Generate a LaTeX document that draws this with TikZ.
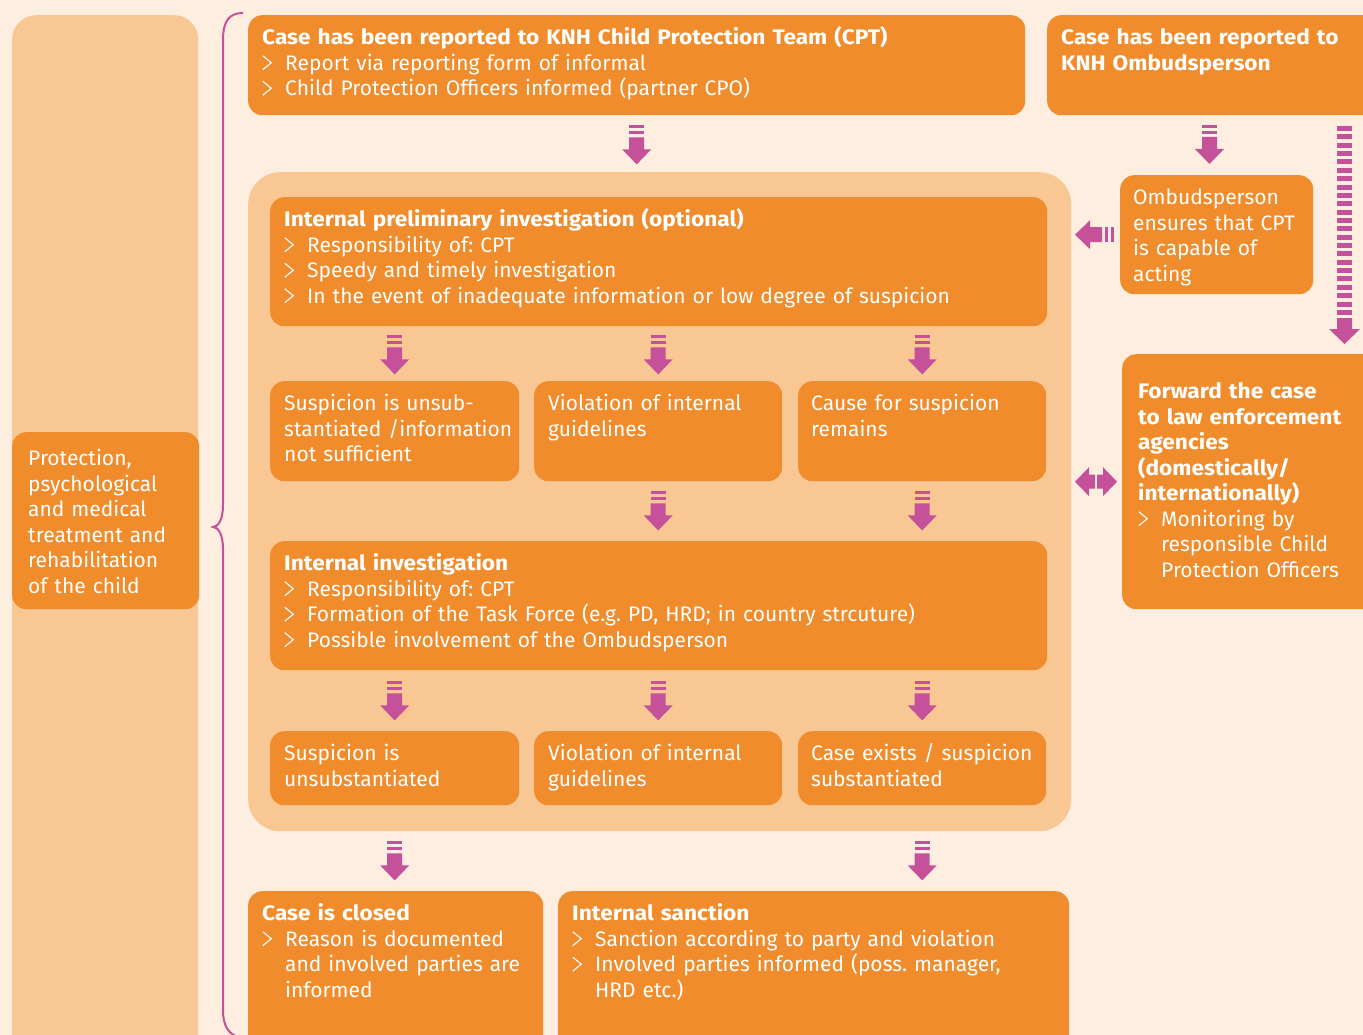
\documentclass[tikz,border=0pt]{standalone}
\usepackage{fontspec}
\setmainfont{Fira Sans}[BoldFeatures={FakeStretch=1.08}]
\usetikzlibrary{positioning,calc}

\definecolor{cream}{HTML}{FDEEDF}
\definecolor{boxorange}{HTML}{F08C2B}
\definecolor{paleorange}{HTML}{F9C794}
\definecolor{arrowpink}{HTML}{C4519A}

% chevron bullet, wrapped lines kept under the text
\newsavebox{\chevbox}
\newcommand{\bul}[1]{\par\noindent\makebox[23pt][l]{\usebox{\chevbox}}%
    \parbox[t]{\dimexpr\linewidth-23pt\relax}{\raggedright #1}}

\tikzset{
    pics/blockarrow/.style={code={
        \fill[arrowpink] (-7.5,0) rectangle (7.5,3);
        \fill[arrowpink] (-7.5,6) rectangle (7.5,9);
        \fill[arrowpink] (-7.5,12) -- (7.5,12) -- (7.5,24) -- (14.5,24) -- (0,39) -- (-14.5,24) -- (-7.5,24) -- cycle;
    }},
    pics/longarrow/.style={code={
        \foreach \i in {0,...,22}
            \fill[arrowpink] (-7.5,8.36*\i) rectangle (7.5,8.36*\i+5);
        \fill[arrowpink] (-7.5,192) -- (7.5,192) -- (7.5,203) -- (15.5,203) -- (0,218) -- (-15.5,203) -- (-7.5,203) -- cycle;
    }},
    pics/twinarrow/.style={code={
        \fill[arrowpink] (-1,-7) -- (-7,-7) -- (-7,-14.5) -- (-21,0) -- (-7,14.5) -- (-7,7) -- (-1,7) -- cycle;
        \fill[arrowpink] (1,-7) -- (7,-7) -- (7,-14.5) -- (21,0) -- (7,14.5) -- (7,7) -- (1,7) -- cycle;
    }}
}

\begin{document}
\frenchspacing
\sbox{\chevbox}{\begin{pgfpicture}
    \pgfsetbaseline{0pt}
    \pgfsetlinewidth{1.1pt}
    \pgfsetstrokecolor{white}
    \pgfpathmoveto{\pgfpoint{0.5pt}{0.5pt}}
    \pgfpathlineto{\pgfpoint{9pt}{7.5pt}}
    \pgfpathlineto{\pgfpoint{0.5pt}{14.5pt}}
    \pgfusepath{stroke}
\end{pgfpicture}}
\begin{tikzpicture}[
    x=1pt, y=-1pt,
    panel/.style={fill=paleorange, rounded corners=24pt, anchor=north west, inner sep=0pt},
    box/.style={fill=boxorange, rounded corners=14pt, anchor=north west, inner sep=0pt},
    txt/.style={anchor=north west, inner sep=0pt, text=white, align=left, text width=#1,
        font=\fontsize{21}{25.5}\selectfont, execute at begin node={\rule{0pt}{18pt}}},
    brace/.style={draw=arrowpink, line width=2pt}
]

% page and background
\useasboundingbox (0,0) rectangle (1363,1035);
\clip (0,0) rectangle (1363,1035);
\fill[cream] (0,0) rectangle (1363,1035);

% Left column
\node[panel, minimum width=186, minimum height=1080] (side) at (12,15) {};
\node[box, minimum width=187, minimum height=177] (care) at (12,432) {};
\node[txt=170pt] (care-t) at ([shift={(16,15.5)}]care.north west)
    {Protection,\newline psychological\newline and medical\newline treatment and\newline rehabilitation\newline of the child};

% Brace
\draw[brace] (243,13) .. controls (230,13) and (223,20) .. (223,40) -- (223,505)
    .. controls (223,520) and (218,527) .. (213,527)
    .. controls (218,527) and (223,534) .. (223,549) -- (223,1010)
    .. controls (223,1025) and (228,1033) .. (236,1036);

% Reporting
\node[box, minimum width=777, minimum height=100] (cpt) at (248,15) {};
\node[txt=760pt] (cpt-t) at ([shift={(14,11.5)}]cpt.north west)
    {\textbf{Case has been reported to KNH Child Protection Team (CPT)}
     \bul{Report via reporting form of informal}
     \bul{Child Protection Officers informed (partner CPO)}};

\node[box, minimum width=340, minimum height=100] (omtop) at (1047,15) {};
\node[txt=300pt] (omtop-t) at ([shift={(14,11.5)}]omtop.north west)
    {\textbf{Case has been reported to\newline KNH Ombudsperson}};

% Investigation area
\node[panel, rounded corners=32pt, minimum width=823, minimum height=659] (area) at (248,172) {};

\node[box, minimum width=777, minimum height=129] (prelim) at (270,197) {};
\node[txt=760pt] (prelim-t) at ([shift={(14,11.5)}]prelim.north west)
    {\textbf{Internal preliminary investigation (optional)}
     \bul{Responsibility of: CPT}
     \bul{Speedy and timely investigation}
     \bul{In the event of inadequate information or low degree of suspicion}};

\node[box, minimum width=249, minimum height=100] (unsub) at (270,381) {};
\node[box, minimum width=248, minimum height=100] (breach) at (534,381) {};
\node[box, minimum width=248, minimum height=100] (remains) at (798,381) {};
\node[txt=235pt] (unsub-t) at ([shift={(14,11.5)}]unsub.north west)
    {Suspicion is unsub-\newline stantiated /information\newline not sufficient};
\node[txt=235pt] (breach-t) at ([shift={(14,11.5)}]breach.north west)
    {Violation of internal\newline guidelines};
\node[txt=235pt] (remains-t) at ([shift={(13,11.5)}]remains.north west)
    {Cause for suspicion\newline remains};

\node[box, minimum width=777, minimum height=129] (inv) at (270,541) {};
\node[txt=760pt] (inv-t) at ([shift={(14,11.5)}]inv.north west)
    {\textbf{Internal investigation}
     \bul{Responsibility of: CPT}
     \bul{Formation of the Task Force (e.g. PD, HRD; in country strcuture)}
     \bul{Possible involvement of the Ombudsperson}};

\node[box, minimum width=249, minimum height=74] (unsub2) at (270,731) {};
\node[box, minimum width=248, minimum height=74] (breach2) at (534,731) {};
\node[box, minimum width=248, minimum height=74] (exists) at (798,731) {};
\node[txt=235pt] (unsub2-t) at ([shift={(14,11.5)}]unsub2.north west)
    {Suspicion is\newline unsubstantiated};
\node[txt=235pt] (breach2-t) at ([shift={(14,11.5)}]breach2.north west)
    {Violation of internal\newline guidelines};
\node[txt=235pt] (exists-t) at ([shift={(13,11.5)}]exists.north west)
    {Case exists / suspicion\newline substantiated};

% Outcomes
\node[box, minimum width=295, minimum height=170] (closed) at (248,891) {};
\node[txt=280pt] (closed-t) at ([shift={(14,11.5)}]closed.north west)
    {\textbf{Case is closed}
     \bul{Reason is documented\\ and involved parties are\\ informed}};

\node[box, minimum width=511, minimum height=170] (sanction) at (558,891) {};
\node[txt=495pt] (sanction-t) at ([shift={(14,11.5)}]sanction.north west)
    {\textbf{Internal sanction}
     \bul{Sanction according to party and violation}
     \bul{Involved parties informed (poss. manager,\\ HRD etc.)}};

% Ombudsperson side
\node[box, minimum width=193, minimum height=119] (omcheck) at (1120,175) {};
\node[txt=180pt] (omcheck-t) at ([shift={(13,11.5)}]omcheck.north west)
    {Ombudsperson\newline ensures that CPT\newline is capable of\newline acting};

\node[box, minimum width=270, minimum height=255] (fwd) at (1122,354) {};
\node[txt=235pt] (fwd-t) at ([shift={(16,26.5)}]fwd.north west)
    {\textbf{Forward the case\newline to law enforcement\newline agencies\newline (domestically/\newline internationally)}
     \bul{Monitoring by\\ responsible Child\\ Protection Officers}};

% Arrows
\coordinate (omdrop) at (1209.5,125);
\coordinate (lawdrop) at (1344.5,126);
\pic at ([yshift=-10pt]cpt.south) {blockarrow};
\pic at (omdrop) {blockarrow};
\pic at (lawdrop) {longarrow};
\pic[rotate=-90] at ([xshift=-6pt]omcheck.west) {blockarrow};
\pic at ([xshift=-26pt]fwd.west) {twinarrow};

\pic at ([yshift=-9pt]prelim.south -| unsub.north) {blockarrow};
\pic at ([yshift=-9pt]prelim.south -| breach.north) {blockarrow};
\pic at ([yshift=-9pt]prelim.south -| remains.north) {blockarrow};
\pic at ([yshift=-10pt]breach.south) {blockarrow};
\pic at ([yshift=-10pt]remains.south) {blockarrow};

\pic at ([yshift=-11pt]inv.south -| unsub2.north) {blockarrow};
\pic at ([yshift=-11pt]inv.south -| breach2.north) {blockarrow};
\pic at ([yshift=-11pt]inv.south -| exists.north) {blockarrow};

\pic at ([yshift=-10pt]area.south -| unsub2.north) {blockarrow};
\pic at ([yshift=-10pt]area.south -| exists.north) {blockarrow};

\end{tikzpicture}
\end{document}
